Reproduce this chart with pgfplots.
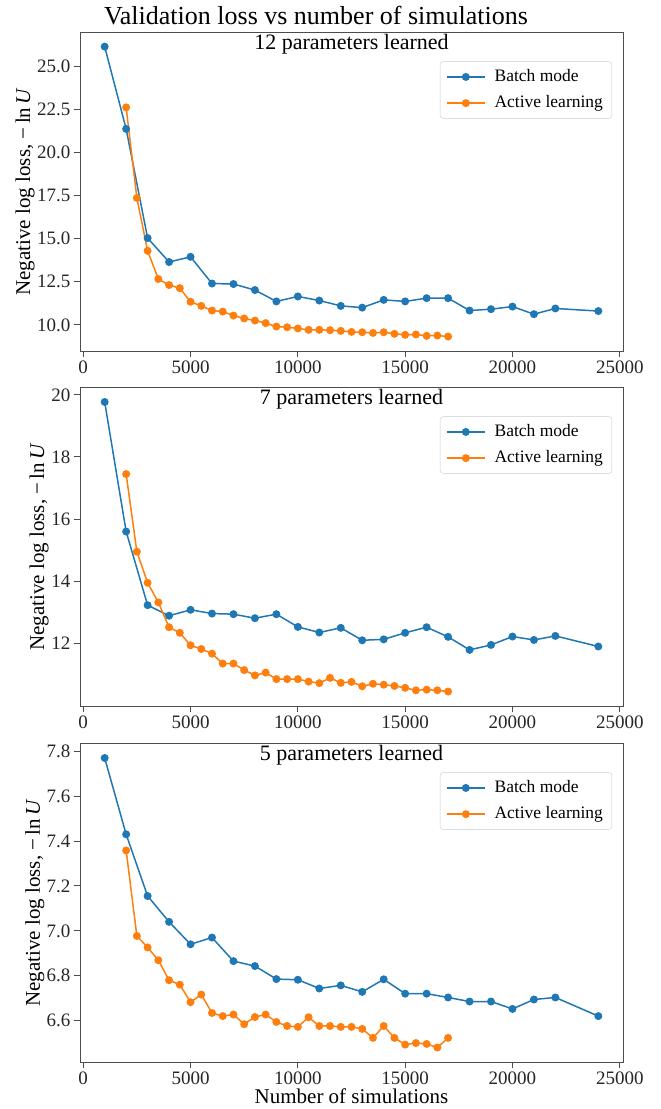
\documentclass[border=0pt]{standalone}
\usepackage{fontspec}
\setmainfont{Liberation Serif}
\usepackage{pgfplots}
\pgfplotsset{compat=1.18}
\definecolor{mblue}{HTML}{1F77B4}
\definecolor{morange}{HTML}{FF7F0E}
\pgfplotsset{
  panel/.style={
    scale only axis, width=543bp, height=318.5bp,
    xmin=-150, xmax=25150,
    xtick={0,5000,10000,15000,20000,25000},
    scaled x ticks=false, scaled y ticks=false,
    tick pos=left, tick align=outside,
    major tick length=6bp,
    axis line style={draw=black!70, line width=1bp},
    major tick style={draw=black!70, line width=1bp},
    tick label style={font=\fontsize{19bp}{22bp}\selectfont, text=black!85},
    /pgf/number format/assume math mode=true,
    xticklabel style={/pgf/number format/1000 sep={}},
    title style={at={(0.5,1)}, anchor=base, yshift=-23bp, font=\fontsize{22bp}{26bp}\selectfont},
    ylabel={Negative log loss, −\,ln\,\textit{U}},
    ylabel style={anchor=center, font=\fontsize{21bp}{25bp}\selectfont},
    legend style={at={(0.98,0.909)}, anchor=north east, draw=black!20, rounded corners=3bp,
      fill=white, font=\fontsize{17.5bp}{20bp}\selectfont, inner xsep=6bp, inner ysep=4bp,
      nodes={inner xsep=3bp, inner ysep=3bp, text height=12.5bp, text depth=4bp},
      row sep=3.7bp,
      /tikz/every odd column/.append style={column sep=6bp}},
    legend cell align=left,
    legend image code/.code={\draw[mark repeat=2,mark phase=2,##1] plot coordinates {(0bp,0bp) (19bp,0bp) (38bp,0bp)};},
  },
  bm/.style={mblue, line width=1.5bp, mark=*, mark size=3.2bp, mark options={solid}},
  al/.style={morange, line width=1.5bp, mark=*, mark size=3.2bp, mark options={solid}},
}
\begin{document}
\begin{tikzpicture}
\path[use as bounding box] (0,0) rectangle (661bp,-1109bp);
\node[anchor=base, font=\fontsize{26bp}{30bp}\selectfont] at (316bp,-24bp) {Validation loss vs number of simulations};

% Panel 1
\begin{axis}[panel, at={(80bp,-351bp)}, anchor=south west,
  ymin=8.48, ymax=26.98,
  ytick={10,12.5,15,17.5,20,22.5,25},
  yticklabel style={/pgf/number format/fixed, /pgf/number format/fixed zerofill, /pgf/number format/precision=1},
  ylabel style={at={(axis description cs:-0.101,0.5)}},
  title={12 parameters learned}]
\addplot[bm] coordinates {(1000,26.16) (2000,21.38) (3000,15.04) (4000,13.65) (5000,13.95) (6000,12.40) (7000,12.37) (8000,12.02) (9000,11.36) (10000,11.65) (11000,11.41) (12000,11.10) (13000,11.00) (14000,11.45) (15000,11.36) (16000,11.55) (17000,11.55) (18000,10.83) (19000,10.91) (20000,11.06) (21000,10.62) (22000,10.95) (24000,10.80)};
\addlegendentry{Batch mode}
\addplot[al] coordinates {(2000,22.63) (2500,17.37) (3000,14.30) (3500,12.66) (4000,12.31) (4500,12.13) (5000,11.34) (5500,11.10) (6000,10.83) (6500,10.77) (7000,10.54) (7500,10.37) (8000,10.25) (8500,10.10) (9000,9.90) (9500,9.86) (10000,9.79) (10500,9.71) (11000,9.71) (11500,9.69) (12000,9.65) (12500,9.59) (13000,9.57) (13500,9.53) (14000,9.57) (14500,9.48) (15000,9.42) (15500,9.44) (16000,9.36) (16500,9.38) (17000,9.32)};
\addlegendentry{Active learning}
\end{axis}

% Panel 2
\begin{axis}[panel, at={(80bp,-706bp)}, anchor=south west,
  ymin=9.984, ymax=20.236,
  ytick={12,14,16,18,20},
  ylabel style={at={(axis description cs:-0.0755,0.5)}},
  title={7 parameters learned}]
\addplot[bm] coordinates {(1000,19.77) (2000,15.60) (3000,13.23) (4000,12.89) (5000,13.08) (6000,12.96) (7000,12.94) (8000,12.81) (9000,12.94) (10000,12.53) (11000,12.35) (12000,12.50) (13000,12.10) (14000,12.13) (15000,12.34) (16000,12.52) (17000,12.21) (18000,11.79) (19000,11.95) (20000,12.22) (21000,12.11) (22000,12.24) (24000,11.90)};
\addlegendentry{Batch mode}
\addplot[al] coordinates {(2000,17.45) (2500,14.95) (3000,13.95) (3500,13.32) (4000,12.52) (4500,12.34) (5000,11.94) (5500,11.82) (6000,11.67) (6500,11.35) (7000,11.35) (7500,11.14) (8000,10.97) (8500,11.06) (9000,10.85) (9500,10.85) (10000,10.85) (10500,10.77) (11000,10.72) (11500,10.89) (12000,10.73) (12500,10.76) (13000,10.62) (13500,10.70) (14000,10.67) (14500,10.63) (15000,10.57) (15500,10.49) (16000,10.51) (16500,10.49) (17000,10.45)};
\addlegendentry{Active learning}
\end{axis}

% Panel 3
\begin{axis}[panel, at={(80bp,-1062bp)}, anchor=south west,
  ymin=6.4155, ymax=7.8345,
  ytick={6.6,6.8,7.0,7.2,7.4,7.6,7.8},
  yticklabel style={/pgf/number format/fixed, /pgf/number format/fixed zerofill, /pgf/number format/precision=1},
  ylabel style={at={(axis description cs:-0.083,0.5)}},
  xlabel={Number of simulations},
  xlabel style={at={(axis description cs:0.5,0)}, anchor=base, yshift=-41bp, font=\fontsize{21bp}{25bp}\selectfont},
  title={5 parameters learned}]
\addplot[bm] coordinates {(1000,7.77) (2000,7.43) (3000,7.155) (4000,7.04) (5000,6.94) (6000,6.97) (7000,6.865) (8000,6.843) (9000,6.785) (10000,6.782) (11000,6.743) (12000,6.757) (13000,6.728) (14000,6.784) (15000,6.72) (16000,6.72) (17000,6.703) (18000,6.685) (19000,6.685) (20000,6.652) (21000,6.694) (22000,6.703) (24000,6.62)};
\addlegendentry{Batch mode}
\addplot[al] coordinates {(2000,7.358) (2500,6.977) (3000,6.926) (3500,6.869) (4000,6.78) (4500,6.76) (5000,6.682) (5500,6.716) (6000,6.634) (6500,6.62) (7000,6.627) (7500,6.584) (8000,6.616) (8500,6.627) (9000,6.594) (9500,6.576) (10000,6.572) (10500,6.615) (11000,6.576) (11500,6.576) (12000,6.572) (12500,6.572) (13000,6.563) (13500,6.523) (14000,6.576) (14500,6.523) (15000,6.493) (15500,6.50) (16000,6.496) (16500,6.48) (17000,6.523)};
\addlegendentry{Active learning}
\end{axis}
\end{tikzpicture}
\end{document}
